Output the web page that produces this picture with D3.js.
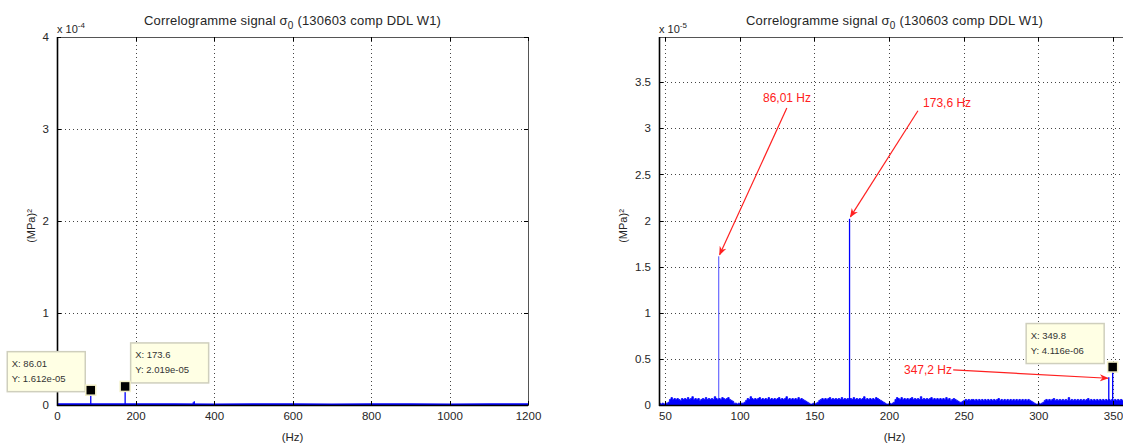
<!DOCTYPE html>
<html><head><meta charset="utf-8">
<script src="https://cdn.jsdelivr.net/npm/d3@7"></script>
<style>
html,body{margin:0;padding:0;background:#fff;}
svg{display:block;font-family:"Liberation Sans",Arial,Helvetica,sans-serif;}
</style></head>
<body><svg id="c" width="1123" height="447"></svg>
<script>
// ---------------- data ----------------
const titleMain = "Correlogramme signal σ";
const titleSub = "0";
const titleRest = " (130603 comp DDL W1)";
const xLabel = "(Hz)";
const yLabel = "(MPa)²";

const leftXTicks = [0, 200, 400, 600, 800, 1000, 1200];
const leftYTicks = [0, 1e-4, 2e-4, 3e-4, 4e-4];
const leftYTickLabels = ["0", "1", "2", "3", "4"];
const leftExponent = "-4";

const rightXTicks = [50, 100, 150, 200, 250, 300, 350];
const rightYTicks = [0, 0.5e-5, 1e-5, 1.5e-5, 2e-5, 2.5e-5, 3e-5, 3.5e-5];
const rightYTickLabels = ["0", "0.5", "1", "1.5", "2", "2.5", "3", "3.5"];
const rightExponent = "-5";

// peak lines (Hz, (MPa)^2)
const peakFreqs = [86.01, 173.6, 347.2, 349.8];
const peakValues = [1.612e-5, 2.019e-5, 0.30e-5, 0.4116e-5];

// noise floor, 1 Hz steps from 46 Hz, in units of 1e-7 (MPa)^2
const noiseStart = 46;
const noiseValues = [
 2,1,2,1,2,2,3,6,8,6,
 7,6,7,6,5,7,6,7,6,8,
 6,7,9,6,7,6,7,5,6,7,
 6,8,6,7,6,7,6,9,7,6,
 7,6,8,7,6,7,8,6,5,4,
 2,2,1,2,1,2,2,3,5,7,
 6,9,7,6,7,6,7,8,6,7,
 6,7,6,8,6,7,6,7,6,7,
 8,6,7,6,7,9,6,7,6,7,
 6,7,6,8,6,7,6,5,4,3,
 2,1,1,2,1,2,3,5,6,7,
 6,7,6,7,8,6,7,6,7,6,
 7,6,8,6,7,6,7,6,7,6,
 8,6,7,6,7,6,7,9,6,7,
 6,7,6,7,6,8,7,6,5,4,
 3,2,1,1,2,1,2,3,6,8,
 7,6,8,6,7,6,7,6,7,8,
 6,7,6,7,6,9,6,7,6,7,
 6,7,8,6,7,6,7,6,7,6,
 7,6,8,6,7,5,6,7,6,5,
 4,3,3,4,5,6,5,6,5,6,
 6,5,6,5,6,5,6,5,6,5,
 6,5,6,5,6,5,6,7,5,6,
 5,6,5,6,5,6,5,6,5,6,
 5,6,5,6,5,6,5,6,5,4,
 3,2,1,1,2,1,2,3,5,6,
 5,6,5,6,7,5,6,5,6,5,
 6,5,6,5,8,5,6,5,6,5,
 6,5,6,5,6,5,6,7,5,6,
 5,6,5,6,5,6,5,6,5,6,
 5,6,5,6,5,6,5,6,5,6,
 5,6,5,6,5,6
];
const noiseUnit = 1e-7;

// coarse floor for the wide (0-1200 Hz) view, 100 Hz steps
const leftFloorFreqs = [0,100,200,300,400,500,600,700,800,900,1000,1100,1200];
const leftFloorValues = [6e-7,7e-7,6e-7,6e-7,5e-7,6e-7,6e-7,5e-7,6e-7,6e-7,5e-7,6e-7,6e-7];

// data tips
const leftTips = [
  {x: 86.01, y: 1.612e-5, lx: "X: 86.01", ly: "Y: 1.612e-05", side: "left"},
  {x: 173.6, y: 2.019e-5, lx: "X: 173.6", ly: "Y: 2.019e-05", side: "right"}
];
const rightTips = [
  {x: 349.8, y: 4.116e-6, lx: "X: 349.8", ly: "Y: 4.116e-06", side: "left"}
];

// red annotations on the right plot (data coordinates)
const annoLabels = ["86,01 Hz", "173,6 Hz", "347,2 Hz"];
const annoTextX = [131.7, 238.9, 242.2];
const annoTextY = [3.33e-5, 3.27e-5, 0.38e-5];
const annoAnchor = ["middle", "middle", "end"];
const annoFromX = [131.6, 219.4, 243.0];
const annoFromY = [3.22e-5, 3.19e-5, 0.38e-5];
const annoToX = [86.6, 174.2, 346.6];
const annoToY = [1.63e-5, 2.04e-5, 0.29e-5];

// ---------------- drawing ----------------
const svg = d3.select("#c");
const defs = svg.append("defs");
defs.append("marker").attr("id","arr").attr("viewBox","0 0 10 10")
  .attr("refX",9).attr("refY",5).attr("markerWidth",9).attr("markerHeight",9)
  .attr("markerUnits","userSpaceOnUse").attr("orient","auto")
  .append("path").attr("d","M0,1 L10,5 L0,9 L3,5 Z").attr("fill","#ff2020");

const TXT = "#262626";
const BLUE = "#0000ff";

function panel(cfg, id) {
  const {x0, x1, y0, y1} = cfg;
  const g = svg.append("g");
  const x = d3.scaleLinear().domain(cfg.xDomain).range([x0, x1]);
  const y = d3.scaleLinear().domain(cfg.yDomain).range([y1, y0]);

  defs.append("clipPath").attr("id","clip"+id).append("rect")
    .attr("x",x0).attr("y",y0).attr("width",x1-x0).attr("height",y1-y0+1);

  // grid
  const grid = g.append("g").attr("stroke","#444").attr("stroke-width",1)
    .attr("stroke-dasharray","1,3");
  cfg.xTicks.forEach(t => {
    const px = Math.round(x(t)) + 0.5;
    if (px > x0 + 2 && px < x1 - 2)
      grid.append("line").attr("x1",px).attr("x2",px).attr("y1",y0).attr("y2",y1);
  });
  cfg.yTicks.forEach(t => {
    const py = Math.round(y(t)) + 0.5;
    if (py > y0 + 2 && py < y1 - 2)
      grid.append("line").attr("x1",x0).attr("x2",x1).attr("y1",py).attr("y2",py);
  });

  // data
  const dg = g.append("g").attr("clip-path","url(#clip"+id+")");
  cfg.drawData(dg, x, y);

  // box
  g.append("rect").attr("x",x0+0.5).attr("y",y0+0.5).attr("width",x1-x0).attr("height",y1-y0)
    .attr("fill","none").attr("stroke","#555").attr("stroke-width",1);
  g.append("line").attr("x1",x0+0.5).attr("x2",x0+0.5).attr("y1",y0).attr("y2",y1+1)
    .attr("stroke","#000").attr("stroke-width",1.6);
  g.append("line").attr("x1",x0).attr("x2",x1).attr("y1",y1+0.5).attr("y2",y1+0.5)
    .attr("stroke","#000").attr("stroke-width",1.6);

  // ticks (inward, all sides)
  const tk = g.append("g").attr("stroke","#000").attr("stroke-width",1);
  cfg.xTicks.forEach(t => {
    const px = Math.round(x(t)) + 0.5;
    tk.append("line").attr("x1",px).attr("x2",px).attr("y1",y1).attr("y2",y1-4);
    tk.append("line").attr("x1",px).attr("x2",px).attr("y1",y0).attr("y2",y0+4);
  });
  cfg.yTicks.forEach(t => {
    const py = Math.round(y(t)) + 0.5;
    tk.append("line").attr("x1",x0).attr("x2",x0+4).attr("y1",py).attr("y2",py);
    tk.append("line").attr("x1",x1).attr("x2",x1-4).attr("y1",py).attr("y2",py);
  });

  // tick labels
  const xl = d3.axisBottom(x).tickValues(cfg.xTicks).tickSize(0).tickPadding(7)
    .tickFormat(d => String(d));
  const gx = g.append("g").attr("transform",`translate(0,${y1})`).call(xl);
  gx.select(".domain").remove();
  gx.selectAll("text").attr("fill",TXT).attr("font-size",11.5)
    .attr("font-family","Liberation Sans, Arial, sans-serif");

  const yl = d3.axisLeft(y).tickValues(cfg.yTicks).tickSize(0).tickPadding(cfg.yPad)
    .tickFormat((d,i) => cfg.yTickLabels[i]);
  const gy = g.append("g").attr("transform",`translate(${x0},0)`).call(yl);
  gy.select(".domain").remove();
  gy.selectAll("text").attr("fill",TXT).attr("font-size",11.5)
    .attr("font-family","Liberation Sans, Arial, sans-serif");

  // exponent
  const ex = g.append("text").attr("x",x0).attr("y",y0-4).attr("fill",TXT)
    .attr("font-size",11);
  ex.append("tspan").text("x 10");
  ex.append("tspan").attr("dy",-5).attr("font-size",8).text(cfg.exponent);

  // title
  const tt = g.append("text").attr("x",(x0+x1)/2).attr("y",25).attr("text-anchor","middle")
    .attr("fill",TXT).attr("font-size",13).attr("letter-spacing",0.2);
  tt.append("tspan").text(titleMain);
  tt.append("tspan").attr("dy",4).attr("font-size",10).text(titleSub);
  tt.append("tspan").attr("dy",-4).text(titleRest);

  // axis titles
  g.append("text").attr("x",(x0+x1)/2).attr("y",441).attr("text-anchor","middle")
    .attr("fill",TXT).attr("font-size",11.5).text(xLabel);
  g.append("text").attr("transform",`translate(${cfg.yLabelX},${(y0+y1)/2+5}) rotate(-90)`)
    .attr("text-anchor","middle").attr("fill",TXT).attr("font-size",11).text(yLabel);

  // data tips
  cfg.tips.forEach(tp => {
    const px = x(tp.x), py = y(tp.y);
    const bw = 78, bh = 40;
    let bx, by;
    if (tp.side === "left") { bx = px - 6 - bw; by = py - bh + (id==="L" ? 1 : -5); }
    else { bx = px + 5; by = py - bh - 4; }
    if (id === "R") { bx = px - 13 - bw + 4; by = py - 44; }
    g.append("rect").attr("x",bx+0.5).attr("y",by+0.5).attr("width",bw).attr("height",bh)
      .attr("fill","#ffffe4").attr("stroke","#cfcfbd").attr("stroke-width",1.5);
    g.append("text").attr("x",bx+5).attr("y",by+16).attr("font-size",9.5).attr("fill","#333").text(tp.lx);
    g.append("text").attr("x",bx+5).attr("y",by+31).attr("font-size",9.5).attr("fill","#333").text(tp.ly);
    g.append("rect").attr("x",px-5).attr("y",py-5).attr("width",10).attr("height",10)
      .attr("fill","#000").attr("stroke","#f3f0c8").attr("stroke-width",1.5);
  });

  return {g, x, y};
}

// left panel
panel({
  x0: 57, x1: 528, y0: 37, y1: 405,
  xDomain: [0, 1200], yDomain: [0, 4e-4],
  xTicks: leftXTicks, yTicks: leftYTicks, yTickLabels: leftYTickLabels,
  yPad: 8, exponent: leftExponent, yLabelX: 35, tips: leftTips,
  drawData: (dg, x, y) => {
    const floorPts = leftFloorFreqs.map((f,i) => [f, leftFloorValues[i]]);
    dg.append("path").datum(floorPts)
      .attr("d", d3.line().x(d => x(d[0])).y(d => y(d[1])))
      .attr("fill","none").attr("stroke",BLUE).attr("stroke-width",2.2);
    peakFreqs.forEach((f,i) => {
      dg.append("line").attr("x1",x(f)).attr("x2",x(f)).attr("y1",y(0)).attr("y2",y(peakValues[i]))
        .attr("stroke",BLUE).attr("stroke-width",1.3);
    });
  }
}, "L");

// right panel
const R = panel({
  x0: 659, x1: 1130, y0: 37, y1: 405,
  xDomain: [46, 46 + 471/1.4933], yDomain: [0, 3.99e-5],
  xTicks: rightXTicks, yTicks: rightYTicks, yTickLabels: rightYTickLabels,
  yPad: 8, exponent: rightExponent, yLabelX: 627, tips: rightTips,
  drawData: (dg, x, y) => {
    const pts = noiseValues.map((v,i) => [noiseStart + i, v * noiseUnit]);
    dg.append("path").datum(pts)
      .attr("d", d3.area().x(d => x(d[0])).y0(y(0)).y1(d => y(d[1])).curve(d3.curveStepAfter))
      .attr("fill",BLUE).attr("stroke",BLUE).attr("stroke-width",0.8);
    peakFreqs.forEach((f,i) => {
      dg.append("line").attr("x1",x(f)).attr("x2",x(f)).attr("y1",y(0)).attr("y2",y(peakValues[i]))
        .attr("stroke",BLUE).attr("stroke-width",i===0 ? 1 : 1.3).attr("opacity", i===0 ? 0.7 : 1);
    });
  }
}, "R");

// annotations
annoLabels.forEach((lab,i) => {
  R.g.append("line")
    .attr("x1",R.x(annoFromX[i])).attr("y1",R.y(annoFromY[i]))
    .attr("x2",R.x(annoToX[i])).attr("y2",R.y(annoToY[i]))
    .attr("stroke","#ff2020").attr("stroke-width",1.2).attr("marker-end","url(#arr)");
  R.g.append("text").attr("x",R.x(annoTextX[i])).attr("y",R.y(annoTextY[i]) + 4)
    .attr("text-anchor",annoAnchor[i]).attr("fill","#ff2020").attr("font-size",12).text(lab);
});
</script></body></html>
